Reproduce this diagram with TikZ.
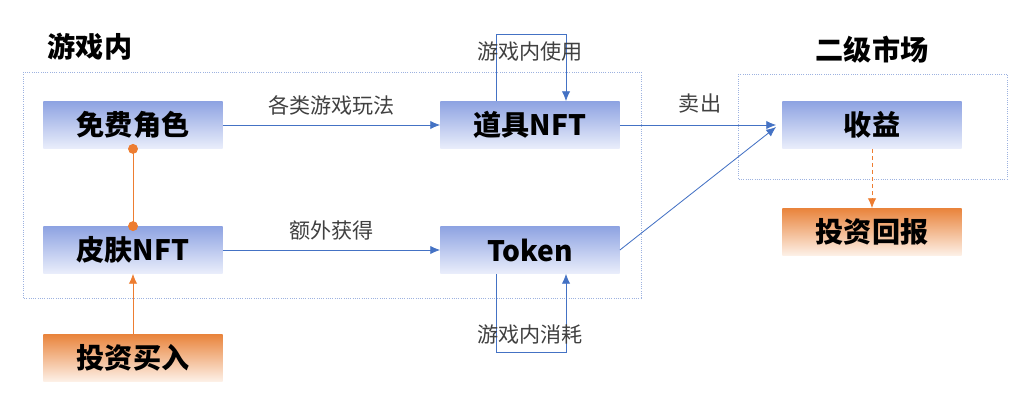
\documentclass[tikz,border=0pt]{standalone}
\usepackage{fontspec}
\setmainfont{Noto Sans CJK SC}
\usepackage{tikz}
\usetikzlibrary{arrows.meta}
\definecolor{flowblue}{HTML}{4472C4}
\definecolor{frameblue}{HTML}{9DB2E0}
\definecolor{boxtop}{HTML}{8EA3E2}
\definecolor{boxbot}{HTML}{EAEEFB}
\definecolor{invest}{HTML}{ED7D31}
\definecolor{investtop}{HTML}{E9843C}
\definecolor{investbot}{HTML}{FDF1E8}
\definecolor{labelgrey}{HTML}{404040}

\tikzset{
  stage/.style={minimum width=4.48cm, minimum height=1.18cm, inner sep=0pt,
    top color=boxtop, bottom color=boxbot, font=\fontsize{20}{24}\selectfont\bfseries},
  money/.style={stage, top color=investtop, bottom color=investbot},
  frame/.style={draw=frameblue, densely dotted, semithick},
  flow/.style={draw=flowblue, semithick, -{Latex[length=7pt,width=6pt]}},
  buy/.style={draw=invest, semithick, -{Latex[length=7pt,width=6pt]}},
  tag/.style={text=labelgrey, font=\fontsize{15}{18}\selectfont},
  title/.style={font=\fontsize{20}{24}\selectfont\bfseries}
}

\begin{document}
\begin{tikzpicture}[x=0.025cm, y=-0.025cm]
  \useasboundingbox (0,0) rectangle (1024,416);

  % the two zones
  \draw[frame] (23,72) rectangle (641,298);
  \draw[frame] (738,74) rectangle (1007,179);
  \node[title] (ingame) at (90,47) {游戏内};
  \node[title] (market) at (872,50) {二级市场};

  % boxes
  \node[stage] (hero) at (133,125) {免费角色};
  \node[stage] (skin) at (133,250) {皮肤NFT};
  \node[money] (buyin) at (133,358) {投资买入};
  \node[stage] (prop) at (530,125) {道具NFT};
  \node[stage] (token) at (530,250) {Token};
  \node[stage] (gain) at (872,125) {收益};
  \node[money] (payoff) at (872,232) {投资回报};

  % flows inside the game
  \draw[flow] (hero) -- node[tag, above=3pt] (play) {各类游戏玩法} (prop);
  \draw[flow] (skin) -- node[tag, above=3pt] (extra) {额外获得} (token);
  \draw[flow] ([xshift=-0.83cm]prop.north) -- ++(0,-67) -| ([xshift=0.9cm]prop.north);
  \node[tag] (use) at (530,52) {游戏内使用};
  \draw[flow] ([xshift=-0.83cm]token.south) -- ++(0,79) -| ([xshift=0.9cm]token.south);
  \node[tag] (burn) at (530,335) {游戏内消耗};

  % to the market
  \coordinate (sellin) at ([xshift=-0.15cm,yshift=-0.05cm]gain.west);
  \draw[flow] (prop) -- (prop.east -| sellin);
  \draw[flow] (token.east) -- (sellin);
  \node[tag] (sell) at (700,103) {卖出};

  % investment
  \draw[draw=invest, semithick, shorten <=-3.5pt, shorten >=-3.5pt,
    {Circle[length=7pt]}-{Circle[length=7pt]}] (hero.south) -- (skin.north);
  \draw[buy] (buyin) -- (skin);
  \draw[buy, densely dashed] (gain) -- (payoff);
\end{tikzpicture}
\end{document}
